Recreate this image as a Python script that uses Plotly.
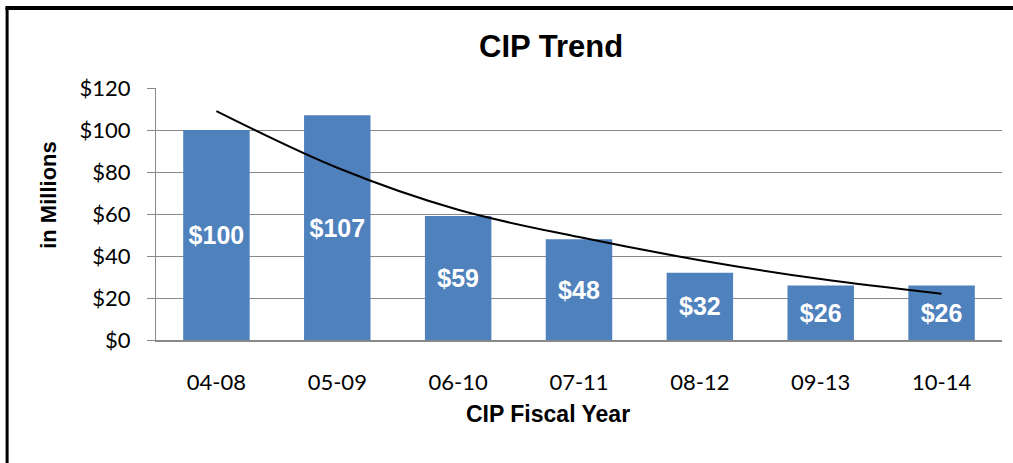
import plotly.graph_objects as go

# CIP values in millions, by fiscal year window
years = ["04-08", "05-09", "06-10", "07-11", "08-12", "09-13", "10-14"]
cip = [100, 107, 59, 48, 32, 26, 26]
bar_labels = ["$100", "$107", "$59", "$48", "$32", "$26", "$26"]
# trend line at each category
trend = [109, 82, 62, 49, 38, 29, 22]

y_ticks = [0, 20, 40, 60, 80, 100, 120]
y_tick_text = ["$0", "$20", "$40", "$60", "$80", "$100", "$120"]

fig = go.Figure()
fig.add_trace(go.Bar(
    x=years, y=cip, text=bar_labels,
    textposition="inside", insidetextanchor="middle",
    textfont=dict(family="Liberation Sans", size=25, color="white", weight="bold"),
    marker=dict(color="#4F81BD", line=dict(width=0)),
    width=0.55, showlegend=False,
))
fig.add_trace(go.Scatter(
    x=years, y=trend, mode="lines",
    line=dict(color="black", width=2, shape="spline"),
    showlegend=False,
))

fig.update_layout(
    width=1013, height=463,
    margin=dict(l=156, r=11, t=88, b=123),
    paper_bgcolor="white", plot_bgcolor="white",
    title=dict(text="<b>CIP Trend</b>", x=0.544, xanchor="center", y=0.9, yanchor="middle",
               font=dict(family="Liberation Sans", size=31, color="black")),
    xaxis=dict(
        type="category", automargin=False,
        tickfont=dict(family="Lato", size=22, color="black"),
        showline=True, linecolor="#888888", linewidth=1.5,
        ticks="", ticklabelstandoff=22, showgrid=False,
    ),
    yaxis=dict(
        automargin=False,
        range=[0, 120], tickvals=y_ticks, ticktext=y_tick_text,
        tickfont=dict(family="Lato", size=22, color="black"),
        showgrid=True, gridcolor="#888888", gridwidth=1,
        showline=True, linecolor="#888888", linewidth=1,
        ticks="outside", ticklen=8, tickcolor="#888888", ticklabelstandoff=12,
        zeroline=False,
    ),
    annotations=[
        dict(text="<b>CIP Fiscal Year</b>", xref="paper", yref="paper",
             x=0.463, y=-0.294, xanchor="center", yanchor="middle", showarrow=False,
             font=dict(family="Liberation Sans", size=23, color="black")),
        dict(text="<b>in Millions</b>", xref="paper", yref="paper",
             x=-0.128, y=0.575, xanchor="center", yanchor="middle", showarrow=False,
             textangle=-90,
             font=dict(family="Liberation Sans", size=22, color="black")),
    ],
    # chart frame: only the left and top edges fall inside the picture
    shapes=[
        dict(type="line", xref="paper", yref="paper",
             x0=-0.176, x1=-0.176, y0=-1.0, y1=1.317,
             line=dict(color="black", width=3), layer="above"),
        dict(type="line", xref="paper", yref="paper",
             x0=-0.178, x1=1.5, y0=1.317, y1=1.317,
             line=dict(color="black", width=4), layer="above"),
    ],
)

# drop the default page margin so the figure sits at the window origin
fig.write_html("out.html", config={"displayModeBar": False},
               post_script="document.body.style.margin='0';")
